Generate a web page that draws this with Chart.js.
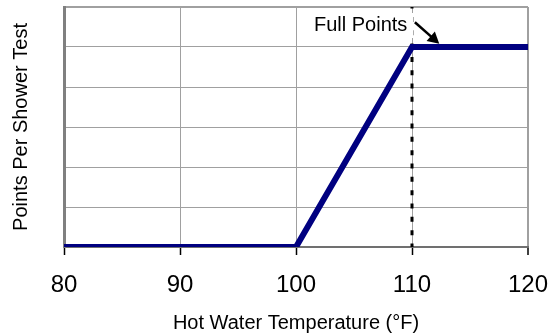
<!DOCTYPE html>
<html>
<head>
<meta charset="utf-8">
<script src="https://cdn.jsdelivr.net/npm/chart.js@4.4.0/dist/chart.umd.min.js"></script>
<style>
  html, body { margin: 0; padding: 0; background: #fff; }
  #wrap { width: 552px; height: 335px; position: relative; }
</style>
</head>
<body>
<div id="wrap"><canvas id="chart"></canvas></div>
<script>
// scoring curve (temperature in °F -> points)
var temps = [80, 100, 110, 120];
var points = [0, 0, 5, 5];

// dotted marker at full-points temperature
var markerTemp = 110;
var markerRange = [0, 6];

var xTicks = [80, 90, 100, 110, 120];

var fontFamily = "'Liberation Sans', Arial, sans-serif";

// "Full Points" label with arrow, placed in data units
var noteText = 'Full Points';
var noteAt = { x: 109.6, y: 5.55 };
var arrowFrom = { x: 110.25, y: 5.62 };
var arrowTo = { x: 112.35, y: 5.08 };

var notePlugin = {
    id: 'note',
    afterDatasetsDraw: function (chart) {
        var ctx = chart.ctx;
        var xs = chart.scales.x, ys = chart.scales.y;
        ctx.save();
        ctx.font = '20px ' + fontFamily;
        var tx = xs.getPixelForValue(noteAt.x);
        var ty = ys.getPixelForValue(noteAt.y);
        var w = ctx.measureText(noteText).width;
        // text box background hides the dotted line behind it
        ctx.fillStyle = '#fff';
        ctx.fillRect(tx - w - 4, ty - 12, w + 10, 25);
        ctx.fillStyle = '#000';
        ctx.textAlign = 'right';
        ctx.textBaseline = 'middle';
        ctx.fillText(noteText, tx, ty);

        var x1 = xs.getPixelForValue(arrowFrom.x), y1 = ys.getPixelForValue(arrowFrom.y);
        var x2 = xs.getPixelForValue(arrowTo.x), y2 = ys.getPixelForValue(arrowTo.y);
        var ang = Math.atan2(y2 - y1, x2 - x1);
        var head = 13;
        ctx.strokeStyle = '#000';
        ctx.lineWidth = 2.5;
        ctx.beginPath();
        ctx.moveTo(x1, y1);
        ctx.lineTo(x2 - head * 0.8 * Math.cos(ang), y2 - head * 0.8 * Math.sin(ang));
        ctx.stroke();
        ctx.beginPath();
        ctx.moveTo(x2, y2);
        ctx.lineTo(x2 - head * Math.cos(ang - 0.5), y2 - head * Math.sin(ang - 0.5));
        ctx.lineTo(x2 - head * Math.cos(ang + 0.5), y2 - head * Math.sin(ang + 0.5));
        ctx.closePath();
        ctx.fill();
        ctx.restore();
    }
};

var ctx = document.getElementById('chart').getContext('2d');
new Chart(ctx, {
    type: 'line',
    data: {
        datasets: [{
            data: temps.map(function (t, i) { return { x: t, y: points[i] }; }),
            borderColor: '#000080',
            borderWidth: 6,
            borderJoinStyle: 'miter',
            pointRadius: 0,
            fill: false,
            tension: 0
        }, {
            data: markerRange.map(function (v) { return { x: markerTemp, y: v }; }),
            borderColor: '#000',
            borderWidth: 3,
            borderDash: [5, 8.33],
            borderDashOffset: 1.5,
            pointRadius: 0,
            fill: false,
            clip: false
        }]
    },
    options: {
        responsive: true,
        maintainAspectRatio: false,
        animation: false,
        layout: { padding: { left: 0, right: 24, top: 7, bottom: 0 } },
        plugins: {
            legend: { display: false },
            tooltip: { enabled: false }
        },
        scales: {
            x: {
                type: 'linear',
                min: 80,
                max: 120,
                afterBuildTicks: function (scale) {
                    scale.ticks = xTicks.map(function (v) { return { value: v }; });
                },
                afterFit: function (scale) {
                    scale.height = 88;
                    scale.paddingLeft = 0;
                    scale.paddingRight = 0;
                },
                ticks: {
                    color: '#000',
                    font: { size: 24, family: fontFamily },
                    padding: 16,
                    maxRotation: 0
                },
                grid: {
                    color: '#a0a0a0',
                    lineWidth: function (c) { return c.tick && c.tick.value === 120 ? 2 : 1; },
                    tickColor: '#000',
                    tickLength: 8,
                    tickWidth: 1.5
                },
                border: { color: '#707070', width: 2 },
                title: {
                    display: true,
                    text: 'Hot Water Temperature (°F)',
                    color: '#000',
                    font: { size: 20, family: fontFamily },
                    padding: { top: 0, bottom: 0 }
                }
            },
            y: {
                min: 0,
                max: 6,
                ticks: { display: false, stepSize: 1 },
                afterFit: function (scale) { scale.width = 64; },
                grid: {
                    color: '#a0a0a0',
                    lineWidth: function (c) { return c.tick && c.tick.value === 6 ? 2 : 1; },
                    drawTicks: false
                },
                border: { color: '#808080', width: 3 },
                title: {
                    display: true,
                    text: 'Points Per Shower Test',
                    color: '#000',
                    font: { size: 20, family: fontFamily },
                    padding: { top: 9, bottom: 0 }
                }
            }
        }
    },
    plugins: [notePlugin]
});
</script>
</body>
</html>
